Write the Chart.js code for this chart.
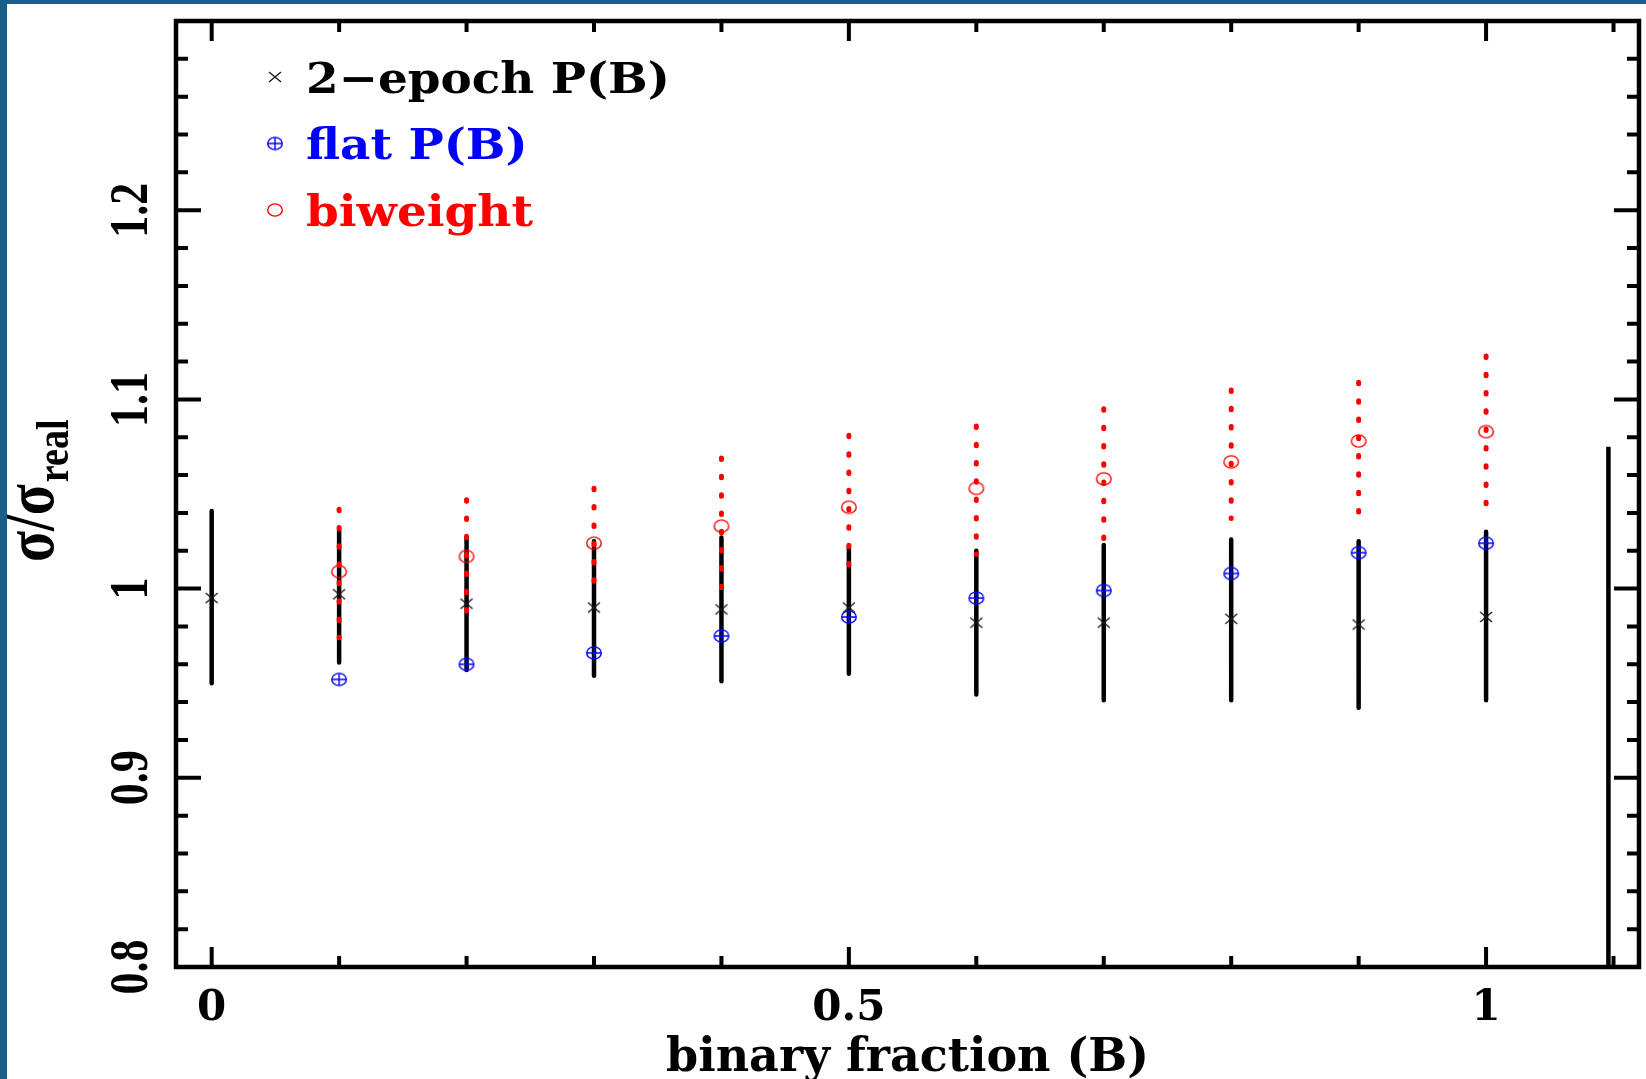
<!DOCTYPE html>
<html>
<head>
  <title>sigma / sigma_real vs binary fraction</title>
  <script src="https://cdn.jsdelivr.net/npm/chart.js"></script>
  <style>
    html, body { margin: 0; padding: 0; overflow: hidden; background: #fff; }
  </style>
</head>
<body>
  <canvas id="sigmaChart" width="1646" height="1079"></canvas>

  <script>
    // values
    const binaryFraction = [0, 0.1, 0.2, 0.3, 0.4, 0.5, 0.6, 0.7, 0.8, 0.9, 1.0];
    const twoEpochRatio  = [0.995, 0.997, 0.992, 0.990, 0.989, 0.990, 0.982, 0.982, 0.984, 0.981, 0.985];
    const twoEpochLow    = [0.950, 0.961, 0.957, 0.954, 0.951, 0.955, 0.944, 0.941, 0.941, 0.937, 0.941];
    const twoEpochHigh   = [1.041, 1.031, 1.027, 1.025, 1.027, 1.022, 1.020, 1.023, 1.026, 1.025, 1.030];
    const flatRatio      = [null, 0.952, 0.960, 0.966, 0.975, 0.985, 0.995, 0.999, 1.008, 1.019, 1.024];
    const biweightRatio  = [null, 1.009, 1.017, 1.024, 1.033, 1.043, 1.053, 1.058, 1.067, 1.078, 1.083];
    const biweightLow    = [null, 0.974, 0.988, 0.995, 0.998, 1.005, 1.018, 1.025, 1.037, 1.040, 1.044];
    const biweightHigh   = [null, 1.042, 1.047, 1.053, 1.069, 1.081, 1.086, 1.095, 1.105, 1.109, 1.123];
    const strayBarX = 1.096;
    const strayBarRange = [0.8, 1.075];

    const xTickValues = [0, 0.5, 1];
    const xTickLabels = ['0', '0.5', '1'];
    const yTickValues = [0.8, 0.9, 1, 1.1, 1.2];
    const yTickLabels = ['0.8', '0.9', '1', '1.1', '1.2'];
    const xMinorStep = 0.1;
    const yMinorStep = 0.02;
    const legendLabels = ['2\u2212epoch P(B)', 'flat P(B)', 'biweight'];

    const BLUE = '#0000ff', RED = '#ff0000', INK = '#000';

    function points(ys) {
      return binaryFraction.map((x, i) => ({ x: x, y: ys[i] })).filter(p => p.y !== null);
    }

    // vertical bars as line pieces, high end first, separated by gaps
    function ranges(lows, highs) {
      const out = [];
      binaryFraction.forEach((x, i) => {
        if (lows[i] === null) return;
        out.push({ x: x, y: highs[i] }, { x: x, y: lows[i] }, { x: x, y: null });
      });
      return out;
    }

    // markers are slightly wider than tall, like in the picture
    function marker(kind, color) {
      const c = document.createElement('canvas');
      c.width = 20; c.height = 18;
      const g = c.getContext('2d');
      g.strokeStyle = color;
      g.lineWidth = 1.4;
      const cx = 10, cy = 9;
      g.beginPath();
      if (kind === 'x') {
        g.moveTo(cx - 6, cy - 5); g.lineTo(cx + 6, cy + 5);
        g.moveTo(cx + 6, cy - 5); g.lineTo(cx - 6, cy + 5);
      } else {
        g.ellipse(cx, cy, 7.3, 6.1, 0, 0, Math.PI * 2);
        if (kind === 'oplus') {
          g.moveTo(cx - 7.3, cy); g.lineTo(cx + 7.3, cy);
          g.moveTo(cx, cy - 6.1); g.lineTo(cx, cy + 6.1);
        }
      }
      g.stroke();
      return c;
    }
    const crossMark = marker('x', '#1a1a1a');
    const oplusMark = marker('oplus', BLUE);
    const circleMark = marker('o', RED);
    const legendMarks = [crossMark, oplusMark, circleMark];
    const legendColors = [INK, BLUE, RED];

    const pageBackground = {
      id: 'pageBackground',
      beforeDraw(chart) {
        const ctx = chart.ctx;
        ctx.save();
        ctx.fillStyle = '#1b5e8a';
        ctx.fillRect(0, 0, chart.width, chart.height);
        ctx.fillStyle = '#fff';
        ctx.fillRect(7, 4, chart.width - 7, chart.height - 4);
        ctx.restore();
      }
    };

    // box with inward ticks on all four sides
    const frameTicks = {
      id: 'frameTicks',
      afterDatasetsDraw(chart) {
        const ctx = chart.ctx;
        const { left, right, top, bottom } = chart.chartArea;
        const xs = chart.scales.x, ys = chart.scales.y;
        ctx.save();
        ctx.strokeStyle = INK;
        ctx.lineWidth = 4.5;
        ctx.strokeRect(left, top, right - left, bottom - top);
        ctx.lineWidth = 4;
        ctx.beginPath();
        for (let i = 0; i * xMinorStep <= xs.max; i++) {
          const v = +(i * xMinorStep).toFixed(3);
          const len = xTickValues.includes(v) ? 20 : 11;
          const px = xs.getPixelForValue(v);
          ctx.moveTo(px, bottom); ctx.lineTo(px, bottom - len);
          ctx.moveTo(px, top); ctx.lineTo(px, top + len);
        }
        for (let i = 0; ys.min + i * yMinorStep <= ys.max + 1e-9; i++) {
          const v = +(ys.min + i * yMinorStep).toFixed(3);
          const len = (Math.round(v * 100) % 10 === 0) ? 25 : 12;
          const py = ys.getPixelForValue(v);
          ctx.moveTo(left, py); ctx.lineTo(left + len, py);
          ctx.moveTo(right, py); ctx.lineTo(right - len, py);
        }
        ctx.stroke();
        ctx.restore();
      }
    };

    // rotated y labels, y title and the in-plot legend
    const annotations = {
      id: 'annotations',
      afterDraw(chart) {
        const ctx = chart.ctx;
        const ys = chart.scales.y;
        ctx.save();
        ctx.fillStyle = INK;
        ctx.textAlign = 'center';
        ctx.textBaseline = 'alphabetic';
        ctx.font = 'bold 44px "Liberation Serif"';
        yTickValues.forEach((v, i) => {
          ctx.save();
          ctx.translate(147, ys.getPixelForValue(v));
          ctx.rotate(-Math.PI / 2);
          ctx.scale(1, 1.25);
          ctx.fillText(yTickLabels[i], 0, 0);
          ctx.restore();
        });

        ctx.save();
        ctx.translate(53, 562);
        ctx.rotate(-Math.PI / 2);
        ctx.scale(1, 1.22);
        ctx.textAlign = 'left';
        ctx.font = 'bold 57px "Liberation Serif"';
        ctx.fillText('\u03c3/\u03c3', 0, 0);
        const w = ctx.measureText('\u03c3/\u03c3').width;
        ctx.font = 'bold 38px "Liberation Serif"';
        ctx.fillText('real', w + 2, 12.5);
        ctx.restore();

        ctx.textAlign = 'left';
        ctx.font = 'bold 43px "DejaVu Serif"';
        legendLabels.forEach((label, i) => {
          const my = 77 + i * 66.5;
          const mk = legendMarks[i];
          ctx.drawImage(mk, 275 - mk.width / 2, my - mk.height / 2);
          ctx.save();
          ctx.translate(306, 93 + i * 66.3);
          ctx.scale(1.09, 1);
          ctx.fillStyle = legendColors[i];
          ctx.fillText(label, 0, 0);
          ctx.restore();
        });
        ctx.restore();
      }
    };

    new Chart(document.getElementById('sigmaChart'), {
      type: 'scatter',
      data: {
        datasets: [
          {
            label: '2-epoch P(B)', data: points(twoEpochRatio), order: 1,
            pointStyle: crossMark, pointRadius: 6
          },
          {
            label: 'biweight', data: points(biweightRatio), order: 2,
            pointStyle: circleMark, pointRadius: 6
          },
          {
            label: 'flat P(B)', data: points(flatRatio), order: 3,
            pointStyle: oplusMark, pointRadius: 6
          },
          {
            type: 'line', label: 'biweight range', data: ranges(biweightLow, biweightHigh), order: 4,
            showLine: true, spanGaps: false, pointRadius: 0,
            borderColor: RED, borderWidth: 5, borderDash: [1.5, 16.8], borderCapStyle: 'round',
            segment: {}
          },
          {
            type: 'line', label: '2-epoch range', data: ranges(twoEpochLow, twoEpochHigh), order: 5,
            showLine: true, spanGaps: false, pointRadius: 0,
            borderColor: INK, borderWidth: 4.5, borderCapStyle: 'round'
          },
          {
            type: 'line', label: 'stray bar', order: 5,
            data: [{ x: strayBarX, y: strayBarRange[0] }, { x: strayBarX, y: strayBarRange[1] }],
            showLine: true, pointRadius: 0, borderColor: INK, borderWidth: 4.5
          }
        ]
      },
      options: {
        responsive: false,
        animation: false,
        events: [],
        layout: { padding: { top: 21, right: 6, left: 0, bottom: 0 } },
        plugins: { legend: { display: false }, tooltip: { enabled: false } },
        scales: {
          x: {
            type: 'linear', min: -0.028, max: 1.12,
            grid: { display: false, drawTicks: false },
            border: { display: false },
            afterBuildTicks: axis => { axis.ticks = xTickValues.map(v => ({ value: v })); },
            afterFit: axis => { axis.height = 112; },
            ticks: {
              color: INK, padding: 17,
              font: { family: '"DejaVu Serif"', weight: 'bold', size: 42 },
              callback: v => xTickLabels[xTickValues.indexOf(v)]
            },
            title: {
              display: true, text: 'binary fraction (B)', color: INK,
              font: { family: '"DejaVu Serif"', weight: 'bold', size: 46, lineHeight: 0.6 },
              padding: { top: 0, bottom: 6 }
            }
          },
          y: {
            type: 'linear', min: 0.8, max: 1.3,
            grid: { display: false, drawTicks: false },
            border: { display: false },
            afterBuildTicks: axis => { axis.ticks = yTickValues.map(v => ({ value: v })); },
            afterFit: axis => { axis.width = 176; },
            ticks: { display: false }
          }
        }
      },
      plugins: [pageBackground, frameTicks, annotations]
    });
  </script>
</body>
</html>
